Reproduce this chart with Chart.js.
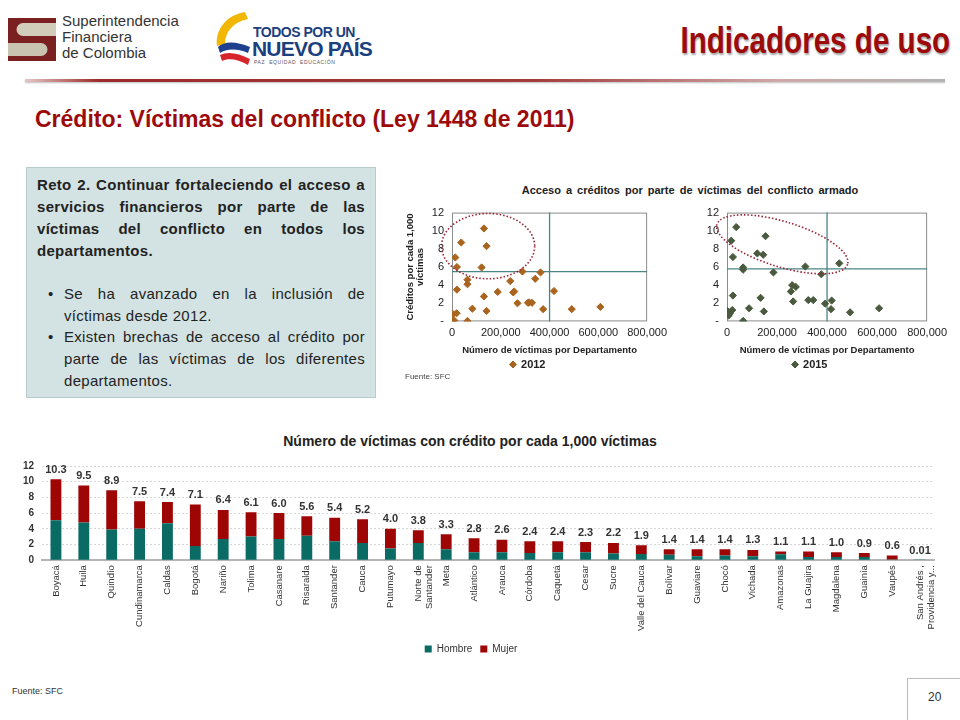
<!DOCTYPE html>
<html lang="es">
<head>
<meta charset="utf-8">
<title>Indicadores de uso</title>
<script src="https://cdn.jsdelivr.net/npm/chart.js@4.4.0/dist/chart.umd.min.js"></script>
<style>
  body { margin: 0; width: 960px; height: 720px; position: relative; overflow: hidden; background: #fff;
         font-family: "Liberation Sans", Arial, sans-serif; color: #222; }
  .abs { position: absolute; }
  .sfc { left: 62px; top: 13px; font-size: 15px; line-height: 16px; color: #333; }
  .todos1 { left: 253px; top: 24px; font-size: 14px; font-weight: bold; color: #1c3f7f; letter-spacing: -0.5px; }
  .todos2 { left: 252px; top: 37px; font-size: 21px; font-weight: bold; color: #1c3f7f; letter-spacing: -0.8px; }
  .todos3 { left: 254px; top: 59px; font-size: 5px; color: #556; letter-spacing: 0.6px; }
  .title { right: 10px; top: 20px; font-size: 37px; font-weight: bold; color: #9c0a0a; white-space: nowrap;
           transform: scaleX(0.8); transform-origin: right center; text-shadow: 1px 2px 2px rgba(0,0,0,0.35); }
  .rule { left: 25px; top: 79px; width: 920px; height: 3px;
          background: linear-gradient(to right, rgba(150,30,30,0.25) 0%, #9b2b2b 8%, #a33b3b 55%, #cfa9a9 82%, #b4b4b4 100%);
          box-shadow: 0 1px 2px rgba(0,0,0,0.25); }
  .sub { left: 35px; top: 106px; font-size: 23px; font-weight: bold; color: #9c0a0a; }
  .box { left: 26px; top: 167px; width: 328px; height: 215px; padding: 6px 10px 8px 10px; background: #d3e2e2;
         border: 1px solid #b9cccc; font-size: 15px; line-height: 22px; letter-spacing: 0.3px; }
  .box .j { display: block; text-align: justify; text-align-last: justify; white-space: nowrap; }
  .box .l { display: block; white-space: nowrap; }
  .box .bold { font-weight: bold; }
  .item { position: relative; padding-left: 27px; line-height: 21.7px; }
  .item::before { content: "\2022"; position: absolute; left: 11px; top: 0; }
  .sctitle { left: 470px; top: 184px; width: 440px; text-align: center; font-size: 11px; font-weight: bold; word-spacing: 2px; }
  .fuente1 { left: 405px; top: 372px; font-size: 8px; color: #444; }
  .bartitle { left: 170px; top: 433px; width: 600px; text-align: center; font-size: 14px; font-weight: bold; }
  .fuente2 { left: 12px; top: 686px; font-size: 9px; color: #333; }
  .pg { left: 928px; top: 690px; font-size: 12px; color: #333; }
  .pgline1 { left: 907px; top: 678px; width: 1px; height: 42px; background: #bbb; }
  .pgline2 { left: 907px; top: 678px; width: 53px; height: 1px; background: #bbb; }
  canvas { position: absolute; }
</style>
</head>
<body>

<!-- header -->
<svg class="abs" style="left:8px; top:18px" width="48" height="43">
  <rect width="48" height="43" fill="#7b2021"/>
  <path d="M48 5 H15 a6.5 6.5 0 0 0 0 13 H48 Z" fill="#d2cdbb"/>
  <path d="M0 25 H33 a6.5 6.5 0 0 1 0 13 H0 Z" fill="#c9c4b2"/>
</svg>
<div class="abs sfc">Superintendencia<br>Financiera<br>de Colombia</div>

<svg class="abs" style="left:212px; top:10px" width="42" height="58">
  <path d="M33 2 C14 5 3 20 5 36 L13 34 C13 22 21 12 36 9 Z" fill="#f2b705"/>
  <path d="M6 37 C12 31 24 31 38 37 L36 43 C24 38 14 39 8 43 Z" fill="#1f3f8f"/>
  <path d="M8 45 C16 41 26 43 38 49 L36 55 C26 49 16 48 10 51 Z" fill="#d7262b"/>
</svg>
<div class="abs todos1">TODOS POR UN</div>
<div class="abs todos2">NUEVO PAÍS</div>
<div class="abs todos3">PAZ&nbsp;&nbsp;EQUIDAD&nbsp;&nbsp;EDUCACIÓN</div>

<div class="abs title">Indicadores de uso</div>
<div class="abs rule"></div>
<div class="abs sub">Crédito: Víctimas del conflicto (Ley 1448 de 2011)</div>

<!-- text box -->
<div class="abs box">
  <div class="bold">
    <span class="j">Reto 2. Continuar fortaleciendo el acceso a</span>
    <span class="j">servicios financieros por parte de las</span>
    <span class="j">víctimas del conflicto en todos los</span>
    <span class="l">departamentos.</span>
  </div>
  <div style="height:21px"></div>
  <div class="item"><span class="j">Se ha avanzado en la inclusión de</span><span class="l">víctimas desde 2012.</span></div>
  <div class="item"><span class="j">Existen brechas de acceso al crédito por</span><span class="j">parte de las víctimas de los diferentes</span><span class="l">departamentos.</span></div>
</div>

<div class="abs sctitle">Acceso a créditos por parte de víctimas del conflicto armado</div>
<canvas id="sc2012" width="272" height="182" style="left:400px; top:198px"></canvas>
<canvas id="sc2015" width="262" height="182" style="left:690px; top:198px"></canvas>
<div class="abs fuente1">Fuente: SFC</div>

<div class="abs bartitle">Número de víctimas con crédito por cada 1,000 víctimas</div>
<canvas id="barras" width="942" height="212" style="left:8px; top:452px"></canvas>

<div class="abs fuente2">Fuente: SFC</div>
<div class="abs pgline1"></div>
<div class="abs pgline2"></div>
<div class="abs pg">20</div>

<script>
"use strict";

// --- barras por departamento ---
const departamentos = [
  "Boyacá", "Huila", "Quindío", "Cundinamarca", "Caldas", "Bogotá", "Nariño", "Tolima",
  "Casanare", "Risaralda", "Santander", "Cauca", "Putumayo", ["Norte de", "Santander"], "Meta",
  "Atlántico", "Arauca", "Córdoba", "Caquetá", "Cesar", "Sucre", "Valle del Cauca", "Bolívar",
  "Guaviare", "Chocó", "Vichada", "Amazonas", "La Guajira", "Magdalena", "Guainía", "Vaupés",
  ["San Andrés ,", "Providencia y..."]
];
const totales = [10.3, 9.5, 8.9, 7.5, 7.4, 7.1, 6.4, 6.1, 6.0, 5.6, 5.4, 5.2, 4.0, 3.8, 3.3, 2.8,
  2.6, 2.4, 2.4, 2.3, 2.2, 1.9, 1.4, 1.4, 1.4, 1.3, 1.1, 1.1, 1.0, 0.9, 0.6, 0.01];
const hombre = [5.1, 4.8, 3.9, 4.0, 4.7, 1.8, 2.7, 3.0, 2.7, 3.1, 2.4, 2.2, 1.5, 2.2, 1.4, 1.0,
  1.0, 0.9, 1.0, 1.0, 0.85, 0.8, 0.7, 0.5, 0.6, 0.5, 0.75, 0.4, 0.4, 0.4, 0.1, 0.005];
const mujer = [5.2, 4.7, 5.0, 3.5, 2.7, 5.3, 3.7, 3.1, 3.3, 2.5, 3.0, 3.0, 2.5, 1.6, 1.9, 1.8,
  1.6, 1.5, 1.4, 1.3, 1.35, 1.1, 0.7, 0.9, 0.8, 0.8, 0.35, 0.7, 0.6, 0.5, 0.5, 0.005];
const yTicksBarras = [0, 2, 4, 6, 8, 10, 12];

// --- dispersión: víctimas por departamento vs créditos por cada 1,000 víctimas ---
const victimas2012 = [131000, 37800, 141600, 13500, 121400, 20200, 288700, 362900, 63400, 63400,
  20200, 238800, 341300, 187500, 250900, 255000, 130900, 418200, 83600, 268500, 311600, 316000,
  327800, 141600, 373700, 491000, 608400, 4000, 18900, 2000, 9400, 63400];
const creditos2012 = [10.25, 8.7, 8.3, 7.05, 5.95, 6.0, 5.5, 5.4, 4.6, 4.1,
  3.5, 4.45, 4.7, 3.25, 3.2, 3.3, 2.75, 3.35, 1.4, 2.0, 2.05, 2.1,
  2.05, 1.15, 1.35, 1.35, 1.6, 0.8, 0.9, 0.05, 0.1, 0.05];
const victimas2015 = [36800, 17100, 154000, 23700, 121000, 144800, 64500, 64500, 185600, 313200,
  448800, 377000, 260600, 275000, 255300, 264500, 325000, 344800, 418500, 392200, 415900, 492200,
  608000, 23700, 134200, 88200, 147400, 2000, 21000, 6600, 11800, 64500];
const creditos2015 = [10.4, 8.9, 9.4, 7.1, 7.5, 7.35, 5.95, 5.7, 5.4, 6.05,
  6.4, 5.2, 4.0, 3.8, 3.3, 2.2, 2.35, 2.35, 2.3, 1.95, 1.35, 1.0,
  1.45, 2.85, 2.6, 1.45, 1.1, 1.15, 1.25, 0.65, 0.9, 0.05];
const xTicksVictimas = [0, 200000, 400000, 600000, 800000];
const yTicksCreditos = [0, 2, 4, 6, 8, 10, 12];

Chart.defaults.font.family = '"Liberation Sans", Arial, sans-serif';
Chart.defaults.color = "#222";
Chart.defaults.animation = false;

const fmtTotal = (v) => v.toFixed(v < 0.1 ? 2 : 1);

// total sobre cada barra apilada
const totalLabels = {
  id: "totalLabels",
  afterDatasetsDraw(chart) {
    const { ctx } = chart;
    const y = chart.scales.y;
    const meta = chart.getDatasetMeta(1);
    ctx.save();
    ctx.font = 'bold 11px "Liberation Sans", Arial, sans-serif';
    ctx.fillStyle = "#333";
    ctx.textAlign = "center";
    ctx.textBaseline = "bottom";
    meta.data.forEach((bar, i) => {
      ctx.fillText(fmtTotal(totales[i]), bar.x, y.getPixelForValue(totales[i]) - 4);
    });
    ctx.restore();
  },
};

new Chart(document.getElementById("barras"), {
  type: "bar",
  data: {
    labels: departamentos,
    datasets: [
      { label: "Hombre", data: hombre, backgroundColor: "#0a6b64" },
      { label: "Mujer", data: mujer, backgroundColor: "#9e0606" },
    ],
  },
  options: {
    responsive: false,
    layout: { padding: { top: 12, right: 16, left: 0, bottom: 0 } },
    datasets: { bar: { categoryPercentage: 1, barPercentage: 0.39 } },
    plugins: {
      tooltip: { enabled: false },
      legend: {
        position: "bottom",
        labels: { boxWidth: 7, boxHeight: 7, padding: 8, font: { size: 10 }, color: "#333" },
      },
    },
    scales: {
      x: {
        stacked: true,
        grid: { display: false, drawTicks: false },
        border: { display: true, color: "#b5b5b5", width: 2 },
        ticks: {
          autoSkip: false, maxRotation: 90, minRotation: 90, padding: 5,
          font: { size: 9.5 }, color: "#333",
        },
      },
      y: {
        stacked: true, min: 0, max: 12,
        afterFit: (s) => { s.width = 34; },
        afterBuildTicks: (s) => { s.ticks = yTicksBarras.map((v) => ({ value: v })); },
        grid: { color: "#d6d6d6", drawTicks: false },
        border: { display: false, dash: [2, 2] },
        ticks: { autoSkip: false, padding: 8, font: { size: 10, weight: "bold" }, color: "#333" },
      },
    },
  },
  plugins: [totalLabels],
});

// marco, líneas de referencia y elipse punteada
const quadrants = {
  id: "quadrants",
  beforeDatasetsDraw(chart, args, opts) {
    const { ctx, chartArea: a, scales: { x, y } } = chart;
    ctx.save();
    ctx.strokeStyle = "#8c8c8c";
    ctx.lineWidth = 1;
    ctx.strokeRect(a.left + 0.5, a.top + 0.5, a.width - 1, a.height - 1);
    ctx.strokeStyle = "#4b8585";
    ctx.lineWidth = 1.3;
    ctx.beginPath();
    const px = x.getPixelForValue(opts.refX);
    const py = y.getPixelForValue(opts.refY);
    ctx.moveTo(px, a.top); ctx.lineTo(px, a.bottom);
    ctx.moveTo(a.left, py); ctx.lineTo(a.right, py);
    ctx.stroke();
    ctx.restore();
  },
  afterDatasetsDraw(chart, args, opts) {
    const { ctx, scales: { x, y } } = chart;
    const e = opts.ellipse;
    const cx = x.getPixelForValue(e.cx);
    const cy = y.getPixelForValue(e.cy);
    const rx = Math.abs(x.getPixelForValue(e.cx + e.rx) - cx);
    const ry = Math.abs(y.getPixelForValue(e.cy + e.ry) - cy);
    ctx.save();
    ctx.strokeStyle = "#9b2335";
    ctx.lineWidth = 1.6;
    ctx.setLineDash([1.5, 2]);
    ctx.beginPath();
    ctx.ellipse(cx, cy, rx, ry, (e.rot * Math.PI) / 180, 0, Math.PI * 2);
    ctx.stroke();
    ctx.restore();
  },
};

function scatter(id, xs, ys, color, year, refs, padLeft, yWidth, yTitle) {
  const points = xs.map((v, i) => ({ x: v, y: ys[i] }));
  return new Chart(document.getElementById(id), {
    type: "scatter",
    data: {
      datasets: [{
        label: year, data: points, pointStyle: "rectRot", pointRadius: 3.6,
        backgroundColor: color, borderColor: color,
      }],
    },
    options: {
      responsive: false,
      layout: { padding: { top: 6, right: 22, left: padLeft, bottom: 0 } },
      plugins: {
        tooltip: { enabled: false },
        legend: {
          position: "bottom",
          labels: {
            usePointStyle: true, pointStyle: "rectRot", boxWidth: 5, boxHeight: 5, padding: 3,
            font: { size: 11, weight: "bold" }, color: "#222",
          },
        },
        quadrants: refs,
      },
      scales: {
        x: {
          type: "linear", min: 0, max: 800000,
          afterBuildTicks: (s) => { s.ticks = xTicksVictimas.map((v) => ({ value: v })); },
          grid: { display: false, drawTicks: false }, border: { display: false },
          ticks: { font: { size: 11 }, color: "#222", padding: 5, maxRotation: 0,
                   callback: (v) => v.toLocaleString("en-US") },
          title: { display: true, text: "Número de víctimas por Departamento",
                   font: { size: 9.5, weight: "bold" }, color: "#222", padding: { top: 0, bottom: 0 } },
        },
        y: {
          min: 0, max: 12,
          afterFit: (s) => { s.width = yWidth; },
          afterBuildTicks: (s) => { s.ticks = yTicksCreditos.map((v) => ({ value: v })); },
          grid: { display: false, drawTicks: false }, border: { display: false },
          ticks: { autoSkip: false, font: { size: 11 }, color: "#222", padding: 8,
                   callback: (v) => (v === 0 ? "-" : v) },
          title: { display: !!yTitle, text: yTitle, font: { size: 9.5, weight: "bold", lineHeight: 1 },
                   color: "#222", padding: 0 },
        },
      },
    },
    plugins: [quadrants],
  });
}

scatter("sc2012", victimas2012, creditos2012, "#a9651f", "2012",
  { refX: 400000, refY: 5.5, ellipse: { cx: 148000, cy: 8.3, rx: 191000, ry: 3.6, rot: 0 } },
  6, 46, ["Créditos por cada 1,000", "víctimas"]);

scatter("sc2015", victimas2015, creditos2015, "#4a5a3e", "2015",
  { refX: 400000, refY: 5.8, ellipse: { cx: 221000, cy: 8.5, rx: 273000, ry: 2.5, rot: 17 } },
  0, 37, "");
</script>
</body>
</html>
